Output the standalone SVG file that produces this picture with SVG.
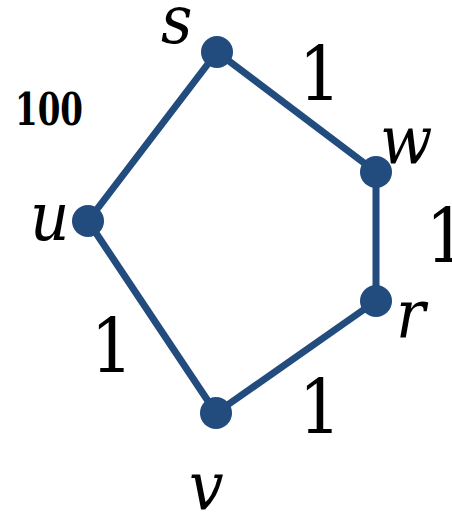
<svg xmlns="http://www.w3.org/2000/svg" width="452" height="515" viewBox="0 0 452 515">
<style>
.edge{stroke:#224b7e;stroke-width:7;fill:none;stroke-linecap:round}
.node{fill:#224b7e}
text{font-family:'DejaVu Serif Condensed','DejaVu Serif',serif;font-stretch:condensed;fill:#000}
.lbl{font-style:italic;font-size:68px}
.num{font-size:74px;text-anchor:middle}
.b{font-weight:bold;font-size:44px}
</style>
<rect width="452" height="515" fill="#fff"/>
<g id="connectors">
<line class="edge" x1="217" y1="52" x2="376" y2="172"/>
<line class="edge" x1="376" y1="172" x2="376" y2="301"/>
<line class="edge" x1="376" y1="301" x2="216" y2="413"/>
<line class="edge" x1="216" y1="413" x2="88" y2="221"/>
<line class="edge" x1="88" y1="221" x2="217" y2="52"/>
<text class="num" x="320" y="100">1</text>
<text class="num" x="447" y="262">1</text>
<text class="num" x="112" y="372">1</text>
<text class="num" x="320" y="433">1</text>
<text class="b" x="15" y="125" textLength="68" lengthAdjust="spacingAndGlyphs">100</text>
</g>
<g id="node-s"><circle class="node" cx="217" cy="52" r="16"/><text class="lbl" x="161" y="43">s</text></g>
<g id="node-w"><circle class="node" cx="376" cy="172" r="16"/><text class="lbl" x="380" y="163">w</text></g>
<g id="node-u"><circle class="node" cx="88" cy="221" r="16"/><text class="lbl" x="30" y="240">u</text></g>
<g id="node-r"><circle class="node" cx="376" cy="301" r="16"/><text class="lbl" x="396" y="338">r</text></g>
<g id="node-v"><circle class="node" cx="216" cy="413" r="16"/><text class="lbl" x="189" y="510">v</text></g>
</svg>
